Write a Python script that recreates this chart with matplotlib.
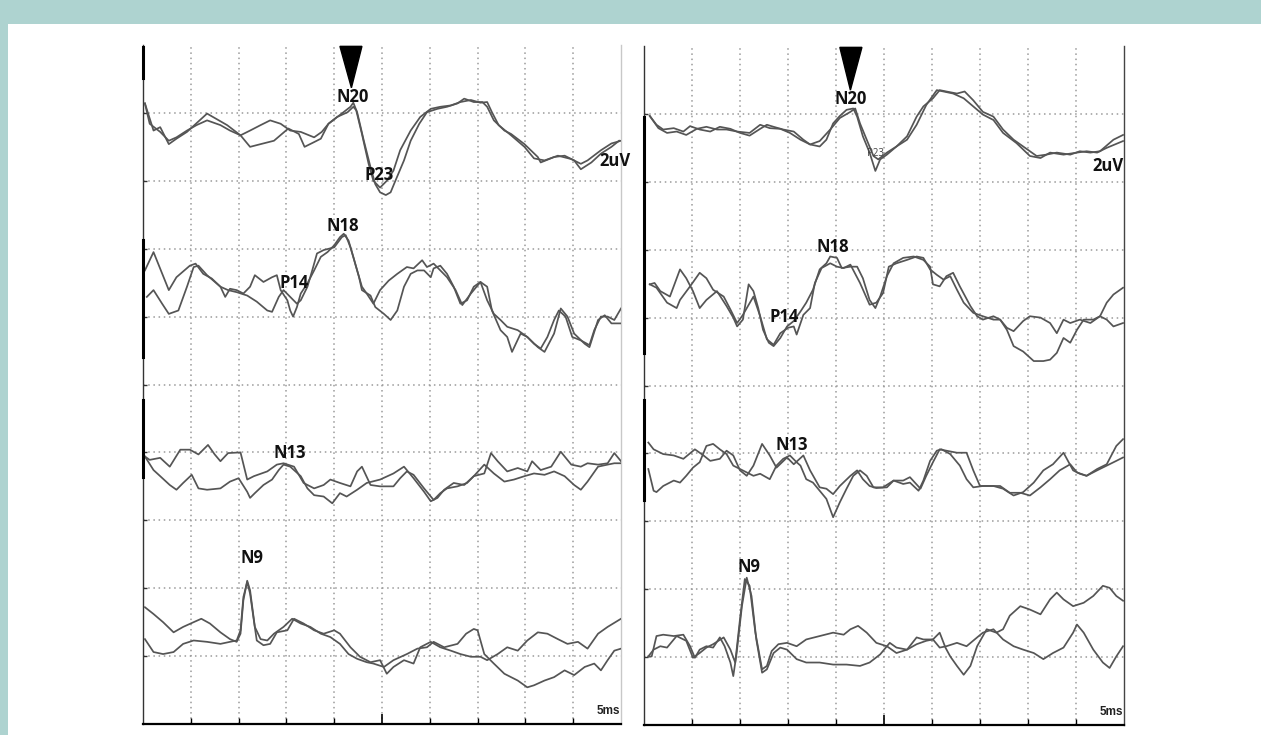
import matplotlib.pyplot as plt
from matplotlib.patches import Rectangle

# Two averaged SSEP sweeps per channel, time in ms, level in grid divisions (2 uV / div)

# ---- left recording ----
L1A_T = [0.2, 1.1, 1.8, 2.7, 3.5, 4.6, 6.7, 8.8, 10.2, 11.2, 12.3, 13.7, 15.2, 16.3, 16.9, 17.9, 18.6, 19.4,
         20.6, 21.7, 22.0, 22.4, 23.1, 23.8, 24.3, 24.8, 25.4, 25.9, 26.4, 27.3, 28.0, 28.9, 29.7, 30.8, 31.8,
         32.9, 33.6, 34.6, 35.5, 36.0, 36.7, 37.8, 38.5, 39.9, 41.3, 41.6, 43.0, 44.1, 45.1, 45.8, 46.9, 47.9,
         49.0, 49.8]
L1A_V = [9.14, 8.74, 8.79, 8.54, 8.62, 8.72, 8.99, 8.82, 8.67, 8.50, 8.54, 8.59, 8.77, 8.69, 8.50, 8.57, 8.62, 8.84,
         8.97, 9.09, 9.15, 9.01, 8.59, 8.20, 7.95, 7.83, 7.79, 7.83, 8.00, 8.30, 8.59, 8.84, 9.01, 9.06, 9.09,
         9.14, 9.21, 9.16, 9.16, 9.09, 8.89, 8.74, 8.69, 8.54, 8.35, 8.27, 8.35, 8.37, 8.30, 8.17, 8.27, 8.40,
         8.50, 8.59]
L1B_T = [0.2, 0.7, 1.8, 2.7, 3.5, 4.6, 5.6, 6.7, 8.1, 9.1, 10.2, 11.2, 12.3, 13.3, 14.4, 15.4, 16.5, 17.9, 18.7,
         19.4, 20.3, 21.4, 22.0, 22.3, 22.9, 23.6, 24.1, 24.8, 25.5, 26.2, 26.9, 28.0, 29.0, 30.1, 31.1, 32.2,
         33.2, 34.3, 35.3, 36.0, 36.5, 37.2, 38.5, 39.9, 40.9, 42.0, 43.4, 44.8, 45.8, 46.5, 47.9, 49.0, 50.0]
L1B_V = [9.14, 8.84, 8.72, 8.59, 8.64, 8.74, 8.82, 8.89, 8.82, 8.74, 8.67, 8.74, 8.82, 8.89, 8.84, 8.74, 8.72, 8.64,
         8.72, 8.84, 8.94, 9.01, 9.09, 9.04, 8.69, 8.25, 8.00, 7.90, 8.00, 8.15, 8.45, 8.74, 8.94, 9.06, 9.09,
         9.11, 9.16, 9.19, 9.15, 9.16, 9.01, 8.82, 8.67, 8.50, 8.33, 8.30, 8.37, 8.32, 8.25, 8.30, 8.45, 8.55, 8.59]

L2A_T = [0.2, 1.1, 2.7, 3.5, 4.9, 5.5, 6.3, 7.2, 8.1, 8.6, 9.1, 9.8, 10.5, 11.2, 11.7, 12.6, 13.5, 14.0, 14.4,
         15.1, 15.4, 15.7, 16.1, 16.5, 17.2, 17.9, 18.6, 19.3, 20.0, 20.6, 21.0, 21.5, 22.0, 22.6, 22.9, 23.8,
         24.3, 25.2, 25.9, 26.6, 27.3, 28.0, 28.7, 29.4, 30.1, 30.4, 31.1, 31.8, 32.5, 33.2, 33.9, 34.6, 35.3,
         36.0, 36.5, 37.4, 38.1, 38.6, 39.5, 40.2, 41.3, 42.0, 43.0, 43.7, 44.4, 45.1, 46.2, 46.7, 47.6, 48.3,
         49.0, 50.0]
L2A_V = [6.68, 6.95, 6.39, 6.58, 6.75, 6.78, 6.63, 6.56, 6.44, 6.29, 6.41, 6.39, 6.34, 6.44, 6.61, 6.51, 6.58, 6.61,
         6.39, 6.24, 6.09, 6.00, 6.14, 6.34, 6.49, 6.68, 6.88, 6.95, 7.05, 7.17, 7.22, 7.12, 6.88, 6.58, 6.39,
         6.31, 6.14, 6.04, 5.95, 6.09, 6.44, 6.63, 6.68, 6.68, 6.58, 6.71, 6.75, 6.63, 6.44, 6.19, 6.24, 6.44,
         6.51, 6.44, 6.09, 5.80, 5.70, 5.48, 5.75, 5.70, 5.55, 5.48, 5.75, 6.12, 6.00, 5.75, 5.60, 5.55, 5.95,
         6.02, 5.90, 5.90]
L2B_T = [0.4, 1.1, 2.0, 2.7, 3.7, 4.6, 5.3, 5.8, 6.7, 8.1, 8.9, 9.8, 10.9, 11.9, 13.0, 13.5, 14.2, 14.7, 16.1,
         16.5, 17.2, 17.7, 18.2, 18.9, 20.0, 20.8, 21.2, 21.7, 22.4, 22.9, 23.4, 24.1, 24.8, 25.7, 26.6, 27.6,
         28.3, 29.2, 29.7, 30.4, 31.1, 31.8, 32.7, 33.4, 34.3, 35.3, 36.0, 36.7, 37.4, 38.1, 39.2, 40.2, 40.9,
         41.6, 42.3, 43.0, 43.5, 44.2, 44.9, 45.8, 46.7, 47.2, 47.9, 48.6, 49.3, 50.0]
L2B_V = [6.29, 6.39, 6.19, 6.04, 6.09, 6.44, 6.73, 6.75, 6.61, 6.44, 6.39, 6.36, 6.31, 6.22, 6.09, 6.07, 6.29, 6.39,
         6.19, 6.24, 6.44, 6.68, 6.93, 6.98, 7.02, 7.17, 7.20, 7.02, 6.68, 6.44, 6.34, 6.19, 6.39, 6.53, 6.63,
         6.73, 6.71, 6.83, 6.73, 6.78, 6.68, 6.58, 6.39, 6.17, 6.34, 6.51, 6.24, 6.04, 5.95, 5.85, 5.80, 5.70,
         5.60, 5.53, 5.70, 5.95, 6.09, 6.00, 5.70, 5.65, 5.58, 5.80, 6.00, 6.00, 5.95, 6.12]

L3A_T = [0.2, 0.7, 1.8, 2.8, 3.9, 4.9, 5.8, 6.8, 7.5, 8.1, 8.9, 10.2, 10.9, 11.6, 13.0, 14.0, 14.7, 15.8, 16.8,
         17.9, 18.9, 19.6, 20.6, 21.7, 22.4, 22.9, 23.8, 24.8, 26.2, 26.9, 27.6, 28.3, 29.4, 30.4, 31.1, 31.8,
         32.9, 33.9, 34.6, 35.7, 36.4, 37.1, 38.1, 39.2, 40.2, 40.7, 41.6, 42.7, 43.7, 44.8, 45.8, 46.5, 47.6,
         48.6, 49.3, 50.0]
L3A_V = [3.94, 3.89, 3.92, 3.79, 4.04, 4.04, 3.97, 4.11, 3.97, 3.87, 3.99, 4.00, 3.60, 3.65, 3.72, 3.82, 3.84, 3.79,
         3.55, 3.47, 3.52, 3.60, 3.55, 3.50, 3.72, 3.79, 3.52, 3.50, 3.50, 3.62, 3.72, 3.67, 3.47, 3.30, 3.40,
         3.47, 3.50, 3.55, 3.65, 3.69, 3.99, 3.87, 3.72, 3.77, 3.72, 3.87, 3.74, 3.79, 4.01, 3.82, 3.79, 3.84,
         3.82, 3.84, 3.99, 3.87]
L3B_T = [0.2, 1.1, 1.8, 2.8, 3.5, 4.2, 5.1, 5.8, 6.7, 8.1, 9.1, 10.0, 10.9, 11.2, 11.7, 12.6, 13.5, 14.2, 14.7,
         15.4, 16.5, 17.2, 17.9, 18.9, 19.8, 20.6, 21.3, 22.4, 23.4, 24.8, 26.2, 27.3, 28.3, 29.4, 30.1, 30.8,
         31.5, 32.5, 33.6, 34.6, 35.7, 36.7, 37.8, 38.8, 39.9, 40.9, 42.0, 43.0, 44.1, 45.1, 45.8, 46.5, 47.6,
         48.6, 49.3, 50.0]
L3B_V = [3.94, 3.74, 3.65, 3.52, 3.45, 3.55, 3.67, 3.47, 3.45, 3.47, 3.57, 3.62, 3.42, 3.33, 3.40, 3.52, 3.60, 3.74,
         3.82, 3.79, 3.65, 3.47, 3.37, 3.35, 3.25, 3.40, 3.35, 3.45, 3.55, 3.60, 3.69, 3.79, 3.62, 3.42, 3.28,
         3.33, 3.45, 3.55, 3.52, 3.65, 3.82, 3.69, 3.57, 3.60, 3.65, 3.69, 3.67, 3.72, 3.65, 3.52, 3.45, 3.57,
         3.79, 3.82, 3.84, 3.84]

L4A_T = [0.2, 1.1, 2.1, 3.2, 4.2, 5.3, 6.1, 7.0, 8.1, 9.1, 9.8, 10.2, 10.5, 10.9, 11.2, 11.7, 12.3, 13.0, 13.7,
         14.7, 15.6, 16.5, 17.5, 18.6, 19.6, 20.6, 21.5, 22.4, 23.4, 24.1, 25.2, 26.2, 27.6, 28.7, 29.7, 30.4,
         31.5, 32.9, 33.8, 34.6, 35.0, 35.7, 36.7, 37.8, 39.2, 40.2, 40.9, 42.0, 43.0, 44.1, 45.1, 46.2, 47.2,
         47.9, 48.6, 49.3, 50.0]
L4A_V = [1.72, 1.62, 1.50, 1.35, 1.43, 1.50, 1.55, 1.48, 1.35, 1.25, 1.21, 1.33, 1.82, 2.11, 1.97, 1.43, 1.25, 1.23,
         1.33, 1.43, 1.55, 1.48, 1.43, 1.33, 1.28, 1.18, 1.03, 0.96, 0.91, 0.89, 0.84, 0.94, 1.03, 1.11, 1.13,
         1.21, 1.13, 1.18, 1.33, 1.40, 1.38, 1.03, 0.89, 0.74, 0.64, 0.54, 0.57, 0.64, 0.69, 0.79, 0.72, 0.84,
         0.89, 0.79, 0.94, 1.08, 1.11]
L4B_T = [0.2, 1.1, 2.1, 3.2, 4.2, 5.3, 6.7, 8.1, 9.1, 9.8, 10.2, 10.5, 10.9, 11.2, 11.6, 11.9, 12.6, 13.3, 14.0,
         15.1, 15.8, 16.8, 17.9, 18.9, 20.0, 20.6, 21.7, 22.7, 23.8, 24.8, 25.5, 26.2, 27.3, 28.3, 29.0, 30.1,
         31.1, 32.2, 33.2, 34.3, 35.3, 36.0, 37.1, 38.1, 39.2, 40.2, 41.3, 42.3, 43.4, 44.4, 45.5, 46.5, 47.6,
         48.6, 50.0]
L4B_V = [1.25, 1.06, 1.03, 1.06, 1.18, 1.23, 1.21, 1.18, 1.21, 1.23, 1.38, 1.87, 2.09, 1.92, 1.52, 1.23, 1.16, 1.18,
         1.35, 1.38, 1.55, 1.48, 1.38, 1.33, 1.38, 1.33, 1.13, 0.99, 0.91, 0.94, 0.74, 0.84, 0.94, 0.89, 1.13,
         1.21, 1.13, 1.08, 1.03, 0.99, 0.99, 0.94, 1.03, 1.13, 1.08, 1.23, 1.35, 1.33, 1.25, 1.18, 1.21, 1.11,
         1.33, 1.43, 1.55]

# ---- right recording ----
R1A_T = [0.6, 1.3, 2.0, 3.1, 4.1, 4.8, 5.8, 6.9, 7.9, 9.0, 10.0, 11.0, 12.1, 12.8, 13.5, 14.5, 15.6, 16.6, 17.3,
         18.3, 19.0, 19.7, 20.4, 21.1, 21.8, 22.2, 22.8, 23.5, 24.1, 24.6, 25.3, 26.3, 27.4, 28.4, 29.1, 30.1,
         30.8, 31.5, 32.6, 33.4, 34.3, 35.3, 36.4, 37.4, 38.5, 39.9, 40.9, 41.9, 43.0, 44.4, 45.4, 46.5, 47.5,
         48.9, 49.9]
R1A_V = [8.97, 8.84, 8.77, 8.79, 8.74, 8.82, 8.77, 8.74, 8.81, 8.78, 8.72, 8.68, 8.78, 8.84, 8.81, 8.77, 8.74, 8.62,
         8.55, 8.52, 8.62, 8.86, 8.97, 9.06, 9.08, 8.96, 8.67, 8.43, 8.16, 8.33, 8.40, 8.52, 8.67, 8.96, 9.11,
         9.23, 9.35, 9.33, 9.30, 9.33, 9.20, 9.03, 8.96, 8.77, 8.62, 8.48, 8.38, 8.40, 8.43, 8.40, 8.45, 8.43,
         8.45, 8.62, 8.69]
R1B_T = [0.6, 1.5, 2.4, 3.4, 4.4, 5.5, 6.5, 7.6, 8.6, 9.7, 11.0, 12.1, 13.1, 14.2, 15.2, 16.3, 17.3, 18.3, 19.4,
         20.4, 21.5, 22.0, 22.5, 23.2, 23.9, 24.4, 25.3, 26.3, 27.4, 28.4, 29.4, 30.5, 31.2, 32.2, 33.3, 34.3,
         35.3, 36.4, 37.4, 38.8, 40.2, 41.3, 42.3, 43.7, 45.1, 46.1, 47.2, 48.2, 49.9]
R1B_V = [8.97, 8.79, 8.72, 8.74, 8.69, 8.78, 8.81, 8.77, 8.77, 8.74, 8.72, 8.84, 8.79, 8.78, 8.72, 8.62, 8.55, 8.60,
         8.77, 8.94, 9.03, 9.08, 8.86, 8.62, 8.38, 8.33, 8.43, 8.52, 8.62, 8.84, 9.13, 9.35, 9.33, 9.30, 9.23,
         9.11, 8.99, 8.91, 8.72, 8.57, 8.38, 8.35, 8.43, 8.40, 8.43, 8.45, 8.43, 8.50, 8.60]

R2A_T = [0.6, 1.1, 1.7, 2.7, 3.75, 4.4, 5.1, 5.8, 6.5, 7.6, 8.6, 9.3, 9.7, 10.3, 10.9, 11.4, 11.9, 12.4, 13.0,
         13.5, 14.2, 14.9, 15.6, 16.3, 16.9, 17.6, 18.3, 19.0, 19.4, 20.1, 20.6, 21.5, 22.2, 22.8, 23.5, 24.1,
         24.6, 25.3, 26.0, 27.0, 28.1, 29.1, 29.8, 30.1, 30.8, 31.5, 32.2, 32.9, 34.0, 34.7, 35.3, 36.4, 37.1,
         37.8, 38.5, 39.5, 40.2, 41.3, 42.3, 43.0, 43.7, 44.4, 45.4, 46.5, 47.5, 48.2, 48.9, 49.9]
R2A_V = [6.49, 6.51, 6.39, 6.31, 6.71, 6.58, 6.39, 6.14, 6.26, 6.39, 6.17, 6.00, 5.87, 5.97, 6.49, 6.39, 6.14, 5.82,
         5.63, 5.58, 5.70, 5.87, 5.95, 6.09, 6.22, 6.41, 6.71, 6.80, 6.90, 6.88, 6.73, 6.75, 6.75, 6.58, 6.26,
         6.14, 6.31, 6.61, 6.80, 6.88, 6.90, 6.85, 6.75, 6.49, 6.46, 6.61, 6.66, 6.46, 6.17, 6.02, 5.97, 6.02,
         5.97, 5.85, 5.80, 5.95, 6.02, 6.00, 5.92, 5.77, 5.97, 5.92, 5.97, 5.92, 6.02, 5.97, 5.87, 5.92]
R2B_T = [0.6, 1.3, 2.4, 3.4, 3.75, 4.8, 5.8, 6.5, 7.2, 8.3, 9.0, 9.7, 10.3, 11.4, 12.1, 12.8, 13.5, 14.2, 15.0,
         15.6, 15.9, 16.6, 17.3, 17.8, 18.5, 19.4, 20.1, 20.8, 21.5, 22.5, 23.5, 24.2, 24.9, 25.5, 26.3, 27.4,
         28.4, 29.1, 29.8, 30.5, 31.2, 31.9, 32.6, 33.3, 34.3, 35.3, 36.4, 37.1, 37.8, 38.5, 39.5, 40.6, 41.6,
         42.3, 43.0, 43.7, 44.4, 45.1, 45.8, 46.8, 47.5, 48.2, 48.9, 49.9]
R2B_V = [6.49, 6.44, 6.22, 6.14, 6.26, 6.46, 6.66, 6.58, 6.41, 6.31, 6.12, 5.92, 6.04, 6.31, 6.02, 5.68, 5.60, 5.77,
         5.85, 5.87, 5.75, 6.04, 6.14, 6.51, 6.73, 6.80, 6.75, 6.73, 6.78, 6.51, 6.19, 6.22, 6.36, 6.75, 6.80,
         6.85, 6.90, 6.88, 6.71, 6.63, 6.56, 6.61, 6.41, 6.22, 6.07, 6.02, 5.97, 5.97, 5.82, 5.58, 5.50, 5.36,
         5.36, 5.38, 5.48, 5.70, 5.63, 5.82, 5.97, 5.97, 6.02, 6.22, 6.34, 6.44]

R3A_T = [0.45, 1.0, 2.0, 3.1, 4.1, 5.3, 6.2, 6.9, 7.9, 8.6, 9.3, 10.0, 10.7, 11.4, 12.3, 13.1, 13.8, 14.9, 15.6,
         16.6, 17.3, 18.3, 19.0, 19.7, 20.4, 21.5, 22.2, 22.8, 23.5, 24.2, 25.3, 26.0, 27.0, 27.7, 28.8, 29.4,
         30.1, 30.8, 31.5, 32.6, 33.6, 34.3, 35.0, 36.0, 37.1, 38.1, 39.2, 40.2, 41.3, 42.3, 43.3, 44.4, 45.1,
         46.1, 47.2, 48.2, 49.2, 49.9]
R3A_V = [4.16, 4.06, 3.99, 3.97, 3.92, 4.06, 3.97, 3.89, 3.92, 4.04, 3.97, 3.75, 3.67, 3.82, 4.14, 3.97, 3.79, 3.94,
         3.84, 3.97, 3.75, 3.50, 3.48, 3.40, 3.52, 3.67, 3.75, 3.62, 3.52, 3.49, 3.50, 3.60, 3.60, 3.65, 3.48,
         3.67, 3.87, 4.06, 4.04, 4.01, 4.01, 3.75, 3.52, 3.52, 3.52, 3.42, 3.42, 3.38, 3.50, 3.62, 3.75, 3.84,
         3.72, 3.67, 3.75, 3.82, 3.89, 3.94]
R3B_T = [0.45, 1.0, 1.3, 2.0, 3.1, 3.75, 4.4, 5.1, 5.8, 6.5, 7.2, 7.9, 8.6, 9.3, 10.0, 10.7, 11.4, 12.1, 13.1,
         13.8, 14.5, 15.2, 15.9, 16.3, 16.9, 17.6, 18.3, 19.0, 19.7, 20.4, 21.1, 21.8, 22.5, 23.2, 23.9, 24.9,
         26.0, 27.0, 27.7, 28.6, 29.1, 29.8, 30.5, 31.0, 31.9, 32.9, 33.6, 34.3, 35.3, 36.4, 37.4, 38.5, 39.5,
         40.6, 41.6, 42.6, 43.7, 44.7, 45.4, 46.1, 47.2, 48.2, 49.2, 49.9]
R3B_V = [3.77, 3.45, 3.43, 3.52, 3.60, 3.57, 3.67, 3.79, 3.87, 4.11, 4.14, 4.06, 3.99, 3.82, 3.77, 3.72, 3.67, 3.70,
         3.62, 3.82, 3.92, 3.97, 3.87, 3.82, 3.62, 3.57, 3.45, 3.33, 3.06, 3.28, 3.48, 3.67, 3.75, 3.67, 3.50,
         3.50, 3.60, 3.55, 3.57, 3.45, 3.60, 3.89, 4.04, 4.06, 3.99, 3.82, 3.62, 3.50, 3.52, 3.52, 3.48, 3.38,
         3.43, 3.57, 3.75, 3.84, 4.01, 3.75, 3.70, 3.67, 3.77, 3.84, 4.11, 4.21]

R4A_T = [0.45, 0.8, 1.3, 2.0, 3.1, 4.1, 4.8, 5.3, 5.8, 6.5, 7.2, 7.9, 8.4, 9.0, 9.3, 9.65, 10.2, 10.7, 11.2,
         11.7, 12.3, 12.8, 13.5, 14.2, 14.9, 15.9, 16.9, 18.3, 19.7, 21.1, 22.5, 23.5, 24.6, 25.6, 26.3, 27.4,
         28.4, 29.1, 30.1, 30.8, 31.4, 31.9, 32.6, 33.3, 34.0, 34.7, 35.7, 36.7, 37.4, 38.1, 39.2, 40.2, 41.3,
         42.3, 43.0, 43.7, 44.7, 45.8, 46.8, 47.8, 48.5, 49.2, 49.9]
R4A_V = [1.01, 1.01, 1.31, 1.33, 1.31, 1.33, 1.16, 0.99, 1.11, 1.16, 1.14, 1.29, 1.16, 0.92, 0.72, 1.06, 1.75, 2.17,
         1.90, 1.26, 0.77, 0.82, 1.06, 1.14, 1.11, 0.97, 0.92, 0.92, 0.89, 0.89, 0.87, 0.92, 1.04, 1.21, 1.14,
         1.11, 1.29, 1.26, 1.26, 1.36, 1.14, 1.01, 0.87, 0.74, 0.87, 1.16, 1.41, 1.36, 1.41, 1.61, 1.75, 1.70,
         1.63, 1.85, 1.95, 1.85, 1.75, 1.80, 1.90, 2.05, 2.02, 1.90, 1.83]
R4B_T = [0.45, 1.0, 1.7, 2.4, 3.4, 4.4, 5.1, 5.8, 6.5, 7.2, 8.3, 9.0, 9.5, 10.0, 10.5, 11.0, 11.6, 12.3, 12.8,
         13.3, 14.0, 14.9, 15.9, 16.9, 18.3, 19.7, 20.8, 21.5, 22.3, 23.2, 24.2, 25.3, 26.3, 27.4, 28.4, 29.4,
         30.1, 30.8, 31.5, 32.6, 33.6, 34.7, 35.3, 36.4, 37.4, 38.5, 39.5, 40.6, 41.6, 42.6, 43.7, 44.7, 45.1,
         45.8, 46.8, 47.8, 48.5, 49.2, 49.9]
R4B_V = [1.01, 1.11, 1.16, 1.14, 1.31, 1.24, 0.99, 1.06, 1.14, 1.19, 1.29, 1.11, 0.92, 1.56, 2.15, 2.05, 1.36, 0.82,
         0.87, 1.09, 1.19, 1.21, 1.16, 1.26, 1.31, 1.36, 1.33, 1.41, 1.46, 1.36, 1.21, 1.16, 1.06, 1.11, 1.19,
         1.24, 1.26, 1.14, 1.16, 1.21, 1.16, 1.29, 1.36, 1.41, 1.26, 1.16, 1.11, 1.06, 0.97, 1.06, 1.14, 1.36,
         1.48, 1.36, 1.11, 0.92, 0.84, 1.01, 1.16]

# stimulus artefact spans on the time-zero line (div)
LEFT_ARTEFACTS = [(9.51, 9.97), (5.40, 7.13), (3.64, 4.77)]
RIGHT_ARTEFACTS = [(7.48, 8.95), (5.48, 7.44), (3.31, 4.79)]

# peak labels: text, latency (ms), level (div)
LEFT_LABELS = [("N20", 21.9, 9.23), ("P23", 24.7, 8.09), ("N18", 20.9, 7.33),
               ("P14", 15.8, 6.49), ("N13", 15.4, 3.99), ("N9", 11.4, 2.44)]
RIGHT_LABELS = [("N20", 21.5, 9.22), ("N18", 19.7, 7.04), ("P14", 14.6, 6.01),
                ("N13", 15.4, 4.12), ("N9", 10.9, 2.33)]

# N20 cursor: base left, base right, tip latency, tip level
LEFT_CURSOR = (20.6, 22.9, 21.8, 9.37)
RIGHT_CURSOR = (20.4, 22.7, 21.5, 9.35)

TRACE_COLOR = "#555555"
GRID_COLOR = "#9a9a9a"
FONT = ["Open Sans", "DejaVu Sans"]


def draw_panel(ax, traces, artefacts, labels, cursor, right_spine):
    ax.set_xlim(0, 50)
    ax.set_ylim(0, 10)
    for x in range(5, 50, 5):
        ax.axvline(x, color=GRID_COLOR, lw=1.1, ls=(0, (1, 2.4)), zorder=1)
    for y in range(1, 10):
        ax.axhline(y, color=GRID_COLOR, lw=1.1, ls=(0, (1, 2.4)), zorder=1)

    for t, v in traces:
        ax.plot(t, v, color=TRACE_COLOR, lw=1.25, zorder=3, solid_joinstyle="round")

    for lo, hi in artefacts:
        ax.plot([0.05, 0.05], [lo, hi], color="black", lw=2.2, zorder=4, clip_on=False)

    for txt, t, v in labels:
        ax.text(t, v, txt, ha="center", va="center", fontsize=12, fontweight="bold",
                family=FONT, color="#111111", zorder=5)

    b0, b1, tip_t, tip_v = cursor
    ax.fill([b0, b1, tip_t], [9.98, 9.98, tip_v], color="black", zorder=6, clip_on=False)

    ax.text(48.7, 0.19, "5ms", ha="center", va="center", fontsize=8.5, fontweight="bold",
            family=["Liberation Sans", "DejaVu Sans"], color="#222222", zorder=5)

    for side in ("top",):
        ax.spines[side].set_visible(False)
    ax.spines["left"].set_color("#333333")
    ax.spines["left"].set_linewidth(1.0)
    ax.spines["bottom"].set_color("black")
    ax.spines["bottom"].set_linewidth(1.6)
    ax.spines["right"].set_color(right_spine)
    ax.spines["right"].set_linewidth(1.0)

    ax.set_xticks([25])
    ax.set_xticks([5, 10, 15, 20, 30, 35, 40, 45], minor=True)
    ax.set_yticks(range(1, 10))
    ax.tick_params(axis="x", which="major", direction="in", length=7, width=1.2, color="black")
    ax.tick_params(axis="x", which="minor", direction="in", length=4, width=1.0, color="black")
    ax.tick_params(axis="y", which="major", direction="in", length=3, width=1.0, color="#333333")
    ax.tick_params(labelbottom=False, labelleft=False)


fig = plt.figure(figsize=(12.61, 7.35), dpi=100)
fig.patch.set_facecolor("white")

# teal frame
fig.add_artist(Rectangle((0, 1 - 24 / 735), 1, 24 / 735, transform=fig.transFigure,
                         facecolor="#aed3d0", edgecolor="none", zorder=0))
fig.add_artist(Rectangle((0, 0), 7.5 / 1261, 1, transform=fig.transFigure,
                         facecolor="#aed3d0", edgecolor="none", zorder=0))

ax_l = fig.add_axes([143 / 1261, 11 / 735, 478 / 1261, 679 / 735])
ax_r = fig.add_axes([644 / 1261, 10 / 735, 480 / 1261, 679 / 735])

left_traces = [(L1A_T, L1A_V), (L1B_T, L1B_V), (L2A_T, L2A_V), (L2B_T, L2B_V),
               (L3A_T, L3A_V), (L3B_T, L3B_V), (L4A_T, L4A_V), (L4B_T, L4B_V)]
right_traces = [(R1A_T, R1A_V), (R1B_T, R1B_V), (R2A_T, R2A_V), (R2B_T, R2B_V),
                (R3A_T, R3A_V), (R3B_T, R3B_V), (R4A_T, R4A_V), (R4B_T, R4B_V)]

draw_panel(ax_l, left_traces, LEFT_ARTEFACTS, LEFT_LABELS, LEFT_CURSOR, "#c8c8c8")
draw_panel(ax_r, right_traces, RIGHT_ARTEFACTS, RIGHT_LABELS, RIGHT_CURSOR, "#444444")

# amplitude scale and the small P23 mark on the right recording
ax_l.text(49.4, 8.29, "2uV", ha="center", va="center", fontsize=12, fontweight="bold",
          family=FONT, color="#111111", zorder=5)
ax_r.text(48.3, 8.23, "2uV", ha="center", va="center", fontsize=12, fontweight="bold",
          family=FONT, color="#111111", zorder=5)
ax_r.text(24.1, 8.41, "P23", ha="center", va="center", fontsize=7,
          family=FONT, color="#444444", zorder=5)

fig.savefig("out.png", dpi=100)
